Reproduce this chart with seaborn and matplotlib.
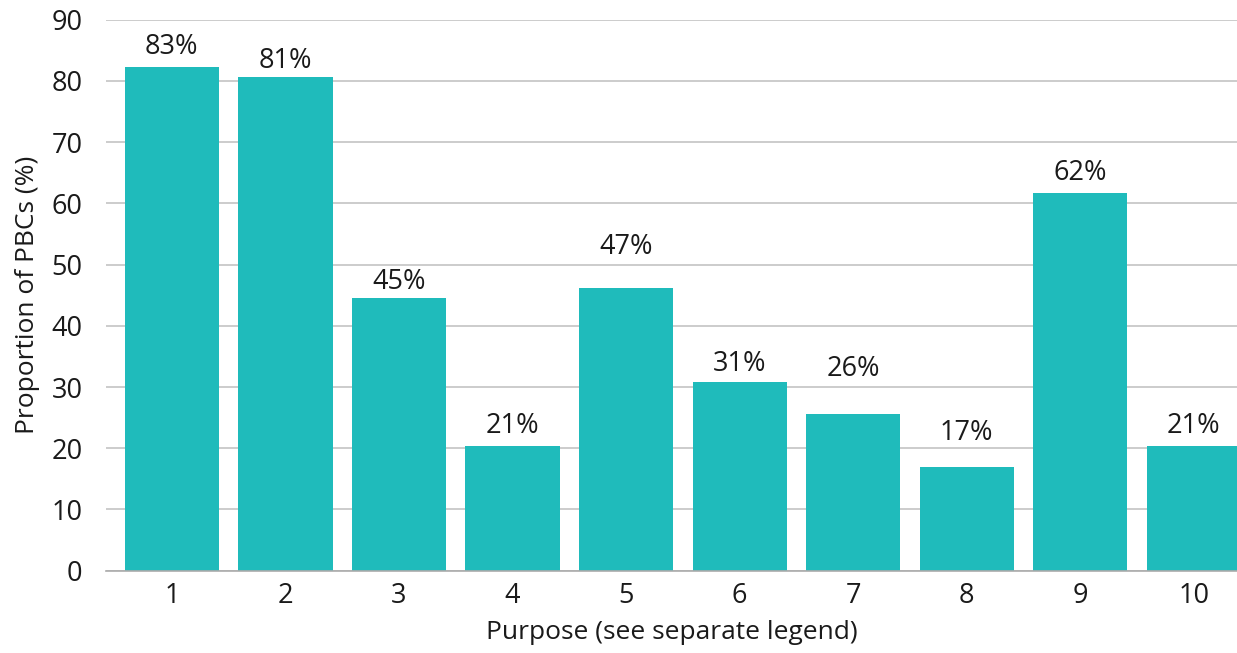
import matplotlib
matplotlib.use("Agg")
import matplotlib.pyplot as plt
import seaborn as sns
import pandas as pd

purposes = ["1", "2", "3", "4", "5", "6", "7", "8", "9", "10"]
proportions = [82.2, 80.7, 44.6, 20.4, 46.1, 30.9, 25.6, 17.0, 61.7, 20.4]
bar_labels = ["83%", "81%", "45%", "21%", "47%", "31%", "26%", "17%", "62%", "21%"]
label_offsets_px = [20, 16, 16, 20, 41, 18, 45, 34, 20, 20]

df = pd.DataFrame({"purpose": purposes, "value": proportions})

sns.set_theme(style="white")
plt.rcParams["font.family"] = ["Open Sans", "DejaVu Sans"]

fig = plt.figure(figsize=(12.37, 6.53), dpi=100)
ax = fig.add_axes([106 / 1237, 82.3 / 653, 1 - 106 / 1237, 551 / 653])

sns.barplot(data=df, x="purpose", y="value", color="#1FBBBB", saturation=1,
            width=0.83, ax=ax, zorder=3, linewidth=0)

ax.set_ylim(0, 90)
ax.set_yticks(range(0, 91, 10))
ax.set_xlim(-0.58, 9.38)
ax.grid(axis="y", color="#C4C4C4", linewidth=1.2, zorder=0)
ax.grid(axis="x", visible=False)
for s in ["left", "right", "top"]:
    ax.spines[s].set_visible(False)
ax.spines["bottom"].set_color("#ABABAB")
ax.spines["bottom"].set_linewidth(1.2)
ax.spines["bottom"].set_zorder(4)

ax.tick_params(axis="both", length=0, labelsize=19.5, colors="#1a1a1a")
ax.tick_params(axis="y", pad=17)
ax.tick_params(axis="x", pad=8)

ax.set_xlabel("Purpose (see separate legend)", fontsize=19, color="#1a1a1a", labelpad=7)
ax.set_ylabel("Proportion of PBCs (%)", fontsize=19, color="#1a1a1a", labelpad=8)

for i, (v, lab, off) in enumerate(zip(proportions, bar_labels, label_offsets_px)):
    ax.annotate(lab, xy=(i, v), xytext=(0, off * 0.72), textcoords="offset points",
                ha="center", va="center", fontsize=19.5, color="#1a1a1a")

fig.savefig("out.png", dpi=100)
